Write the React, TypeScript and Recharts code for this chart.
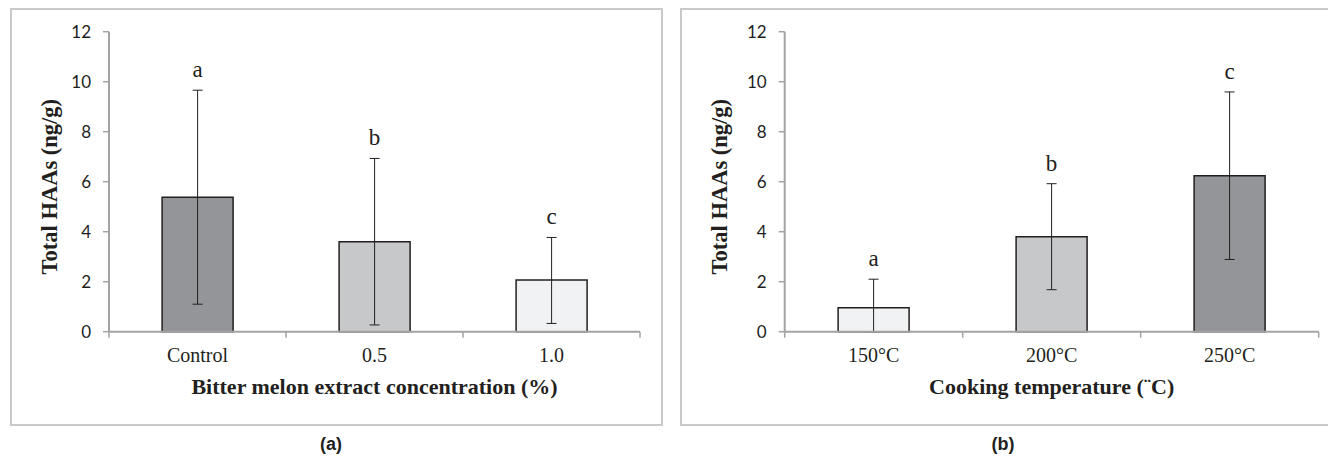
import React from 'react';
import { BarChart, Bar, XAxis, YAxis, ErrorBar, Cell, LabelList, Label } from 'recharts';

// ---- Panel (a): bitter melon extract concentration ----
const concCategories = ['Control', '0.5', '1.0'];
const concMeans = [5.38, 3.6, 2.07];
const concErrors: [number, number][] = [
  [4.28, 4.28],
  [3.33, 3.33],
  [1.74, 1.7],
];
const concLetters = ['a', 'b', 'c'];

// ---- Panel (b): cooking temperature ----
const tempCategories = ['150°C', '200°C', '250°C'];
const tempMeans = [0.96, 3.8, 6.24];
const tempErrors: [number, number][] = [
  [0.96, 1.14],
  [2.12, 2.12],
  [3.35, 3.35],
];
const tempLetters = ['a', 'b', 'c'];

const yTicks = [0, 2, 4, 6, 8, 10, 12];

const DARK = '#939598';
const MID = '#c7c8ca';
const LIGHT = '#f1f2f3';
const AXIS = '#a3a3a3';
const INK = '#231f20';
const SERIF = '"Liberation Serif", "Times New Roman", serif';

const CatTick = (props: any) => {
  const { x, y, payload, index, visibleTicksCount, width } = props;
  const off = payload && typeof payload.offset === 'number' && payload.offset > 0
    ? payload.offset
    : width / (2 * visibleTicksCount);
  return (
    <g>
      <line x1={x - off} x2={x - off} y1={y} y2={y + 6} stroke={AXIS} strokeWidth={1.5} />
      {index === visibleTicksCount - 1 && (
        <line x1={x + off} x2={x + off} y1={y} y2={y + 6} stroke={AXIS} strokeWidth={1.5} />
      )}
      <text x={x} y={y + 30} textAnchor="middle" fontFamily={SERIF} fontSize={20} fill={INK}>
        {payload.value}
      </text>
    </g>
  );
};

const NumTick = (props: any) => {
  const { x, y, payload } = props;
  return (
    <text
      x={x}
      y={y}
      dy="0.36em"
      textAnchor="end"
      fontFamily='Lato, "Open Sans", sans-serif'
      fontSize={17}
      fill="#1e1e1e"
    >
      {payload.value}
    </text>
  );
};

type PanelProps = {
  cats: string[];
  means: number[];
  errs: [number, number][];
  letters: string[];
  colors: string[];
  xTitle: string;
  left: number;
  width: number;
  yAxisWidth: number;
  rightMargin: number;
  yLabelX: number;
};

function Panel(p: PanelProps) {
  const data = p.cats.map((c, i) => ({ cat: c, mean: p.means[i], err: p.errs[i], letter: p.letters[i] }));

  const renderLetter = (props: any) => {
    const vb = props.viewBox ?? props;
    const { x, y, width, height } = vb;
    let i = typeof props.index === 'number' ? props.index : p.letters.indexOf(props.value);
    if (i < 0) i = 0;
    const ppu = height / p.means[i];
    const top = y - p.errs[i][1] * ppu;
    return (
      <text x={x + width / 2} y={top - 13} textAnchor="middle" fontFamily={SERIF} fontSize={23} fill={INK}>
        {props.value}
      </text>
    );
  };

  const renderYLabel = (props: any) => {
    const vb = props.viewBox;
    const cx = vb.x + p.yLabelX;
    const cy = vb.y + vb.height / 2 + 5;
    return (
      <text
        x={cx}
        y={cy}
        transform={`rotate(-90, ${cx}, ${cy})`}
        textAnchor="middle"
        fontFamily={SERIF}
        fontWeight="bold"
        fontSize={22.5}
        fill={INK}
      >
        Total HAAs (ng/g)
      </text>
    );
  };

  const renderXLabel = (props: any) => {
    const vb = props.viewBox;
    return (
      <text
        x={vb.x + vb.width / 2}
        y={vb.y + 62.5}
        textAnchor="middle"
        fontFamily={SERIF}
        fontWeight="bold"
        fontSize={22}
        fill={INK}
      >
        {p.xTitle}
      </text>
    );
  };

  return (
    <div style={{ position: 'absolute', left: p.left, top: 0 }}>
      <BarChart
        width={p.width}
        height={466}
        data={data}
        margin={{ top: 31.7, right: p.rightMargin, left: 0, bottom: 64.3 }}
        barCategoryGap="30%"
      >
        <XAxis
          dataKey="cat"
          height={70}
          interval={0}
          tickSize={0}
          tickMargin={0}
          tickLine={false}
          axisLine={{ stroke: AXIS, strokeWidth: 2 }}
          tick={<CatTick />}
        >
          <Label content={renderXLabel} />
        </XAxis>
        <YAxis
          type="number"
          domain={[0, 12]}
          ticks={yTicks}
          interval={0}
          width={p.yAxisWidth}
          tickSize={6}
          tickMargin={12}
          tickLine={{ stroke: AXIS, strokeWidth: 1.5 }}
          axisLine={{ stroke: AXIS, strokeWidth: 2 }}
          tick={<NumTick />}
        >
          <Label content={renderYLabel} />
        </YAxis>
        <Bar dataKey="mean" stroke={INK} strokeWidth={1.5} isAnimationActive={false}>
          {data.map((d, i) => (
            <Cell key={d.cat} fill={p.colors[i]} />
          ))}
          <ErrorBar dataKey="err" direction="y" width={5} stroke={INK} strokeWidth={1} />
          <LabelList dataKey="letter" content={renderLetter} />
        </Bar>
      </BarChart>
    </div>
  );
}

export default function App() {
  const frame: React.CSSProperties = {
    position: 'absolute',
    top: 8,
    width: 653,
    height: 418,
    border: '2px solid #c9c9c9',
    boxSizing: 'border-box',
  };
  const cap: React.CSSProperties = {
    position: 'absolute',
    top: 434,
    fontFamily: '"Liberation Sans", Arial, sans-serif',
    fontWeight: 'bold',
    fontSize: 18,
    color: INK,
    transform: 'translateX(-50%)',
    whiteSpace: 'nowrap',
  };
  return (
    <div
      style={{
        position: 'absolute',
        left: 0,
        top: 0,
        width: 1328,
        height: 466,
        overflow: 'hidden',
        background: '#fff',
      }}
    >
      <div style={{ ...frame, left: 10 }} />
      <div style={{ ...frame, left: 680 }} />
      <Panel
        cats={concCategories}
        means={concMeans}
        errs={concErrors}
        letters={concLetters}
        colors={[DARK, MID, LIGHT]}
        xTitle="Bitter melon extract concentration (%)"
        left={0}
        width={662}
        yAxisWidth={109}
        rightMargin={22}
        yLabelX={57.3}
      />
      <Panel
        cats={tempCategories}
        means={tempMeans}
        errs={tempErrors}
        letters={tempLetters}
        colors={[LIGHT, MID, DARK]}
        xTitle="Cooking temperature (¨C)"
        left={662}
        width={666}
        yAxisWidth={122.7}
        rightMargin={9.3}
        yLabelX={65}
      />
      <div style={{ ...cap, left: 331 }}>(a)</div>
      <div style={{ ...cap, left: 1003 }}>(b)</div>
    </div>
  );
}
